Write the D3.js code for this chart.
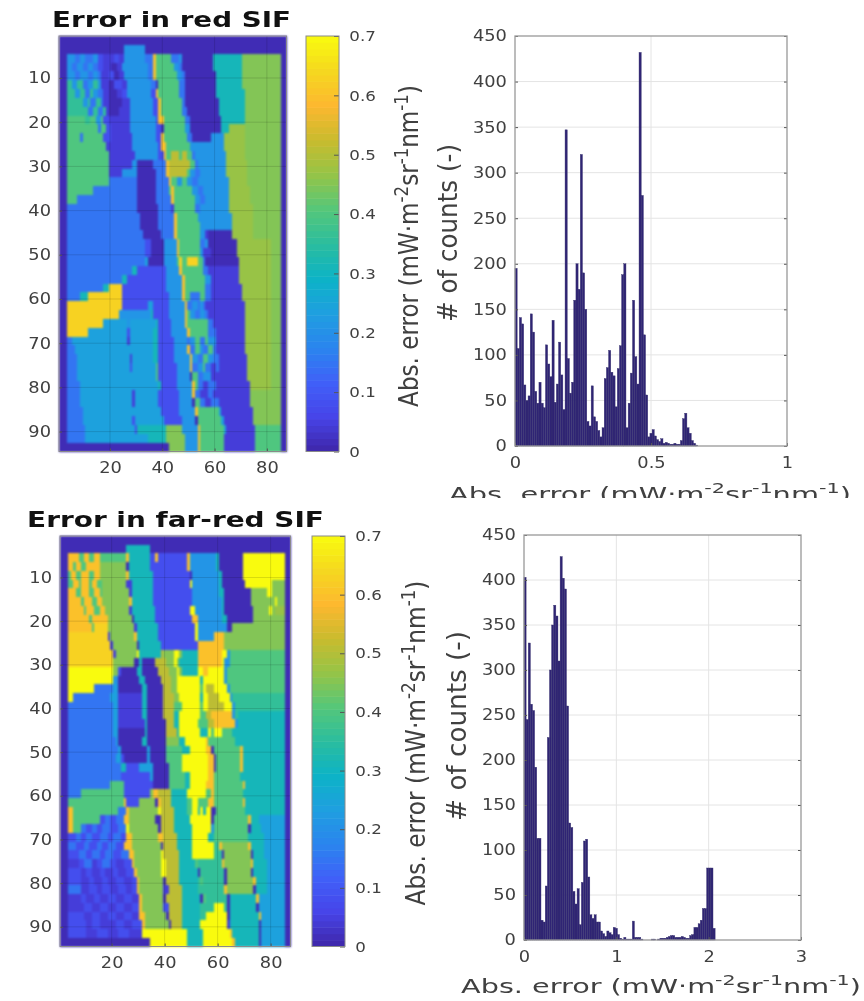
<!DOCTYPE html>
<html>
<head>
<meta charset="utf-8">
<script src="https://cdn.jsdelivr.net/npm/d3@7"></script>
<style>
    html, body { margin: 0; background: #fff; }
    svg { display: block; filter: blur(0.55px); }
    text { font-family: "DejaVu Sans", sans-serif; fill: #404040; }
    .cells { filter: blur(0.9px); }
</style>
</head>
<body>
<svg id="canvas" width="864" height="1001"></svg>
<script>
// error levels used by the map rows, letter a is the first one
let heatLevels = [0.012, 0.045, 0.08, 0.15, 0.21, 0.24, 0.31, 0.36, 0.40, 0.45, 0.47, 0.51, 0.55, 0.60, 0.63, 0.70]

// each string is two map rows: last column of a run + level letter
let redRows = [
    "87a",
    "25a 33e 87a",
    "3a 6e 8d 10e 13d 15e 17c 21b 23c 25b 33e 36d 37n 43i 46d 47e 59a 70g 85j 87a",
    "3a 5e 7d 9e 11d 13e 15d 17c 20b 22a 24b 34e 36d 37n 44i 46e 47d 59a 70g 85j 87a",
    "3a 6e 8d 11e 13d 15e 16d 19b 21c 23a 25b 34e 36d 37n 45i 47e 48d 60a 70g 85j 87a",
    "3a 5h 7e 9h 11d 13e 15h 16e 19b 21a 24c 26b 35e 37d 38a 46i 48d 60a 70g 85j 87a",
    "3a 6h 8e 10h 12d 13h 15e 17d 19b 22a 24b 26c 35e 37c 38n 46i 48d 60a 71g 85j 87a",
    "3a 9h 11e 12h 14d 16h 17d 19b 24a 27b 36e 38c 39n 47i 48d 61a 71g 85j 87a",
    "3a 11h 13d 15h 17d 18h 19b 23a 27b 36e 38c 39n 47i 49d 61a 71g 85j 87a",
    "3a 10i 12h 14i 16e 17i 19c 24b 27b 37e 38c 40n 48i 50d 62a 71g 85j 87a",
    "3a 15i 16d 18i 20c 27b 37e 39c 40a 48i 50e 62a 65g 71k 85j 87a",
    "3a 8i 9d 17i 20c 28b 37e 39c 40n 49i 51d 58a 63e 71k 85j 87a",
    "3a 18i 21b 28b 38e 39c 41n 50i 63e 71k 85j 87a",
    "3a 19i 21b 29b 38e 40c 41n 43i 46l 47i 49l 51i 52d 64e 71k 85j 87a",
    "3a 19i 22b 28b 30e 36a 41d 42n 50l 52i 53d 64e 72k 85j 87a",
    "3a 19i 24b 30e 37a 41d 42n 49l 50i 52e 54d 64e 72k 85j 87a",
    "3a 19i 30d 37a 42d 43n 45i 47e 49i 51e 53d 65e 72k 85j 87a",
    "3a 13i 30d 37a 42d 43i 44n 51i 53e 55d 65e 73k 85j 87a",
    "3a 7i 30d 37a 43d 44n 52i 54e 56d 65e 73k 85j 87a",
    "3a 30d 38a 43d 44b 52i 54d 65e 74k 85j 87a",
    "3a 31d 38a 44d 45n 53i 55e 66e 74k 85j 87a",
    "3a 31d 38a 44d 45n 54i 56e 66e 74k 85j 87a",
    "3a 32d 39a 44d 45n 54i 56e 57b 66a 74k 85j 87a",
    "3a 33d 35c 40a 45e 46n 54i 56d 57e 68a 81k 85j 87a",
    "3a 33d 35c 40a 45e 46n 54i 55e 58b 68a 81k 85j 87a",
    "3a 33d 34f 40a 45e 46i 47o 49i 53o 55i 56d 58a 69a 81k 85j 87a",
    "3a 28d 30g 41c 46e 47n 55i 57d 69b 81k 85j 87a",
    "3a 24d 26g 41c 47e 48n 56i 58e 61b 69b 81k 85j 87a",
    "3a 17d 19g 24o 41c 47e 48n 56i 58d 61b 70b 81k 85j 87a",
    "3a 8d 11g 24o 42c 47e 48n 50i 54d 56i 58d 61b 70b 81k 85j 87a",
    "3a 24o 25c 34c 36f 42c 48e 49n 51d 53e 54d 55e 56d 58b 62b 71b 81k 85j 87a",
    "3a 23o 26e 35e 36g 42c 48e 49n 50i 52e 54d 56e 57d 58b 62b 71b 81k 85j 87a",
    "3a 17o 26f 27e 37f 38g 43c 48e 49n 51i 57i 59d 62b 71b 81k 85j 87a",
    "3a 11o 26f 27c 36f 38g 43c 49e 50n 51i 57i 60d 71b 81k 85j 87a",
    "3a 5d 26f 27b 36f 38g 44c 49e 50d 52e 54i 56d 57i 60e 71b 81k 85j 87a",
    "3a 6d 36f 38g 44c 49e 50n 52d 54i 55e 57d 59i 60d 71b 81k 85j 87a",
    "3a 7d 27f 28b 36f 38g 44c 50e 51n 53e 55d 57i 59e 61d 72b 81k 85j 87a",
    "3a 7d 27f 28c 37f 38i 45c 50e 51n 53d 55e 56i 58d 60b 61d 72b 81k 85j 87a",
    "3a 7d 37f 38i 45c 50e 51a 53i 55d 58e 60b 72b 81k 85j 87a",
    "3a 8d 38f 39g 45c 51e 52n 53i 55d 57b 60d 62b 73b 81k 85j 87a",
    "3a 8d 28f 29b 38f 46c 51e 52n 54d 57b 59d 61b 73b 85j 87a",
    "3a 8d 28f 29b 38f 46c 51e 52a 54i 56d 58b 61d 62b 73b 85j 87a",
    "3a 9d 39f 46c 52e 53n 54i 61i 62f 74b 85j 87a",
    "3a 9d 28f 29c 40f 47c 52e 53a 62i 63f 74b 85j 87a",
    "3a 10d 29f 30c 41g 47j 53e 54n 63i 64f 75b 85i 87a",
    "3a 10d 34f 41g 48j 53e 54n 63i 75b 85i 87a",
    "42a 48j 53e 54n 63i 75b 85i 87a"
]

let farRedRows = [
    "87a",
    "25a 34g 87a",
    "3a 7n 9i 11n 13i 15n 25i 26n 34g 36c 37n 48c 49n 59e 60g 69a 85p 87a",
    "3a 5n 6i 8n 10i 12n 15n 25j 26a 34g 37c 48c 49n 59e 60g 69a 85p 87a",
    "3a 4i 6n 8i 11n 13i 15n 25j 26n 35g 37c 49c 50a 60e 61g 69a 85p 87a",
    "3a 5i 7n 8i 11n 12i 14n 16i 25j 27b 35g 37c 49c 50p 60e 61g 70a 80p 85j 87a",
    "3a 6n 8i 11n 13i 15n 16i 26j 27b 35g 38c 50c 60e 62g 72a 78j 80p 85j 87a",
    "3a 8n 9i 12n 14i 16n 26j 27n 35g 38c 50c 51e 61e 62g 72a 81j 82p 85j 87a",
    "3a 9n 10i 13n 15i 17n 26j 27b 36g 38c 49c 51p 61e 62g 73a 79j 80p 81j 85k 87a",
    "3a 11n 12i 18n 27j 28a 36g 39c 50c 52n 61e 63g 73a 85j 87a",
    "3a 12n 13i 18o 28j 29b 37g 40c 51c 52p 63e 65a 85j 87a",
    "3a 18o 19b 28j 29n 37g 40c 51c 52p 58e 62n 85j 87a",
    "3a 19o 20b 29j 30a 38g 41c 52c 62n 85j 87a",
    "3a 20o 21b 29j 30p 38g 39l 43j 45p 46j 52g 53n 61n 63p 64e 85i 87a",
    "3a 20o 28j 30a 31g 36a 40l 43j 44p 45j 52g 53n 61n 62p 64e 85i 87a",
    "3a 20p 22j 23c 29a 31g 37a 41l 44j 45p 46j 52g 54p 56n 62p 63e 64i 85i 87a",
    "3a 20p 22e 30a 32g 38a 42l 44j 46p 53p 54g 55p 62p 63e 64i 85i 87a",
    "3a 13p 20d 22f 31a 33g 39a 42l 44j 53p 54i 55p 58l 60p 63p 64e 65i 85i 87a",
    "3a 5p 19d 22f 31b 33g 39a 43l 45j 53p 54g 56p 60l 61p 64p 65e 66h 85h 87a",
    "3a 20d 22f 31b 33g 39a 43l 46i 53p 54i 56p 62l 65p 66e 85h 87a",
    "3a 20d 22f 31b 33g 39a 43l 45g 53p 55i 57l 65n 66e 67h 76g 85g 87a",
    "3a 20d 22f 32b 33g 40a 43l 45g 52p 56i 58l 66n 67e 76g 85g 87a",
    "3a 20d 22f 32a 33g 40a 44l 45g 53p 56g 57p 58i 61p 65i 67g 85g 87a",
    "3a 21d 22f 31a 33g 40a 45j 47g 48p 55p 56n 59i 66i 68g 85g 87a",
    "3a 22d 23f 33a 34f 40a 46i 49g 55p 57n 58a 68i 69n 85g 87a",
    "3a 21d 23f 24c 33a 34f 40a 46i 49p 50p 56p 58n 59a 68i 69n 85g 87a",
    "3a 23d 25g 30c 33f 35f 41a 46i 49p 56p 58n 59a 68i 69n 85g 87a",
    "3a 23d 25c 34c 35f 41a 47i 49g 50p 56p 58n 60i 68i 69g 85g 87a",
    "3a 19d 24i 25c 35c 41a 47i 49g 50p 55p 58n 60i 69i 70n 85g 87a",
    "3a 8d 24i 25c 34c 35j 37n 42l 48g 51p 55p 57i 58n 60i 69i 70g 85g 87a",
    "3a 24i 25n 26c 30c 36j 37a 38n 42l 48g 50i 52p 53i 56i 58n 60i 69i 70n 85g 87a",
    "3a 5n 22i 25d 26n 37j 38p 43l 48g 50i 52p 53g 54p 55g 57p 59a 60i 70i 71g 85g 87a",
    "3a 5n 15i 17c 19d 21c 24d 26n 36j 38a 43l 49g 51p 57p 58a 60i 71i 72n 75g 85f 87a",
    "3a 5n 8i 10d 12c 14d 16c 19d 22c 25d 26p 37j 38a 43l 50g 51p 57p 58e 61i 71i 72a 76g 85f 87a",
    "3a 6c 8d 10c 12d 15c 18d 20c 23d 25c 27n 37j 39n 44l 50g 52p 56p 58g 61i 71i 72g 77g 85f 87a",
    "3a 6d 9c 11d 14c 16d 18c 21d 24c 27n 38j 39a 44l 50g 51p 58p 60h 61n 71j 72n 77g 85f 87a",
    "3a 7c 10d 12c 15d 17c 20d 23c 26d 28n 38j 39p 45l 50g 51p 58p 61h 62a 72j 73a 77g 85f 87a",
    "3a 7b 9c 12d 14b 16c 19d 21c 24b 27c 28n 38j 40p 45l 51g 52i 53h 61h 62n 72j 73n 78g 85f 87a",
    "3a 8c 10b 12c 15b 17c 20b 22c 25b 28c 29n 38j 40p 45l 52g 53a 54h 62h 63a 72j 73a 78g 85f 87a",
    "3a 8c 11b 13c 16b 18c 21b 24c 27b 29c 30n 39j 40a 45l 52g 53h 54i 62h 63a 73j 74n 78g 85f 87a",
    "3a 8d 11b 14c 16b 19c 22b 25c 27b 29c 30n 39j 41b 46l 52g 54h 62h 63n 73j 74a 78g 85f 87a",
    "3a 8b 10c 13b 15c 18b 21c 24b 27c 30b 31n 39j 40a 46l 53g 54a 55i 63h 64a 74g 75n 85f 87a",
    "3a 9b 12c 15b 18c 21b 24c 27b 30c 31n 39j 41c 46l 53g 58h 62p 63h 64a 74g 75a 85f 87a",
    "3a 9c 12b 15c 18b 21c 24b 27c 30b 32n 40j 41a 46l 53g 55h 63p 64a 75g 76n 85f 87a",
    "3a 10c 12b 15c 18b 21b 24c 27b 31c 32n 41j 42a 46l 53g 63p 64b 75g 76a 85f 87a",
    "3a 10c 14b 18c 22b 26c 31b 48p 54g 64p 65n 75g 76a 85f 87a",
    "34a 48p 54g 55p 65p 66n 75g 76a 85f 87a"
]

// histogram counts, one per bin starting at zero
let redCounts = [195, 107, 141, 134, 67, 50, 55, 145, 125, 60, 47, 70, 47, 42, 111, 90, 76, 138, 48, 68,
    114, 78, 40, 347, 96, 58, 70, 160, 200, 172, 320, 190, 150, 27, 22, 66, 32, 27, 17, 10,
    20, 74, 86, 105, 81, 77, 43, 85, 110, 188, 200, 20, 47, 80, 160, 98, 68, 432, 275, 122,
    56, 10, 14, 18, 11, 7, 5, 8, 3, 4, 3, 2, 2, 3, 2, 2, 6, 30, 36, 20, 14, 6, 3, 1]
let farRedCounts = [403, 245, 330, 262, 255, 192, 113, 113, 22, 20, 60, 225, 300, 350, 372, 360, 310, 426, 402, 390,
    260, 130, 125, 54, 40, 57, 17, 64, 110, 112, 70, 28, 24, 28, 20, 20, 10, 7, 4, 10,
    8, 6, 14, 13, 6, 2, 1, 3, 1, 1, 1, 21, 3, 3, 3, 1, 0, 0, 0, 0,
    1, 1, 0, 1, 2, 2, 2, 3, 4, 5, 5, 3, 3, 3, 4, 3, 2, 2, 5, 6,
    14, 14, 18, 22, 35, 35, 80, 80, 80, 13]
let redBinWidth = 0.008
let farRedBinWidth = 0.023

// parula colours, evenly spaced between 0 and 0.7
let parulaColors = ['#3e26a8', '#4744e8', '#4060f8', '#2a85ee', '#1f9fe0', '#0cb3c6', '#2bbd9e', '#55c77a', '#95c447', '#c9bb2e', '#fdb82f', '#f5d81f', '#f9fb0e']
let colorTicks = [0, 0.1, 0.2, 0.3, 0.4, 0.5, 0.6, 0.7]
let mapXTicks = [20, 40, 60, 80]
let mapYTicks = [10, 20, 30, 40, 50, 60, 70, 80, 90]
let countTicks = [0, 50, 100, 150, 200, 250, 300, 350, 400, 450]
let redErrorTicks = [0, 0.5, 1]
let farRedErrorTicks = [0, 1, 2, 3]
let unitParts = ['Abs. error (mW·m', '-2', 'sr', '-1', 'nm', '-1', ')']

let canvas = d3.select('#canvas')

let color = d3.scaleLinear()
    .domain(parulaColors.map((c, i) => i * 0.7 / (parulaColors.length - 1)))
    .range(parulaColors)

let parseRows = (rows) => {
    return rows.flatMap((row, k) => {
        let start = 1
        return row.split(' ').map((token) => {
            let end = +token.slice(0, -1)
            let run = {
                row: 2 * k + 1,
                start: start,
                end: end,
                value: heatLevels[token.charCodeAt(token.length - 1) - 97]
            }
            start = end + 1
            return run
        })
    })
}

// the source figure is stretched, so every label is fitted to a width
let placeFitted = (text, x, y, width, angle) => {
    let natural = text.node().getComputedTextLength()
    text.attr('text-anchor', 'middle')
        .attr('transform', `translate(${x},${y}) rotate(${angle}) scale(${width / natural},1)`)
}

let unitLabel = (x, y, width, angle, size) => {
    let label = canvas.append('text').attr('font-size', size)
    unitParts.forEach((part, i) => {
        let sup = i % 2 === 1
        label.append('tspan')
            .attr('font-size', sup ? size * 0.72 : size)
            .attr('dy', i === 0 ? 0 : (sup ? -size * 0.38 : size * 0.38))
            .text(part)
    })
    placeFitted(label, x, y, width, angle)
    return label
}

let styleAxis = (g, size, stretch) => {
    g.selectAll('.domain').remove()
    g.selectAll('line').attr('stroke', '#555')
    g.selectAll('text')
        .attr('font-size', size)
        .attr('transform', `scale(${stretch},1)`)
}

let drawMap = (rows, box, bar, title) => {
    let x = d3.scaleLinear().domain([0.5, 87.5]).range([box.left, box.right])
    let y = d3.scaleLinear().domain([0.5, 94.5]).range([box.top, box.bottom])

    canvas.append('g')
        .attr('class', 'cells')
        .selectAll('rect')
        .data(parseRows(rows))
        .enter()
        .append('rect')
        .attr('x', (d) => x(d.start - 0.5))
        .attr('y', (d) => y(d.row - 0.5))
        .attr('width', (d) => x(d.end + 0.5) - x(d.start - 0.5))
        .attr('height', (d) => y(d.row + 1.5) - y(d.row - 0.5))
        .attr('fill', (d) => color(d.value))
        .attr('shape-rendering', 'crispEdges')

    let grid = canvas.append('g').attr('stroke', 'rgba(0,0,0,0.13)')
    mapXTicks.forEach((t) => {
        grid.append('line').attr('x1', x(t)).attr('x2', x(t)).attr('y1', box.top).attr('y2', box.bottom)
    })
    mapYTicks.forEach((t) => {
        grid.append('line').attr('y1', y(t)).attr('y2', y(t)).attr('x1', box.left).attr('x2', box.right)
    })

    canvas.append('g')
        .attr('transform', `translate(0,${box.bottom})`)
        .call(d3.axisBottom(x).tickValues(mapXTicks).tickSizeInner(-3).tickPadding(11))
        .call((g) => styleAxis(g, 15.5, 1.15))
    canvas.append('g')
        .attr('transform', `translate(${box.left},0)`)
        .call(d3.axisLeft(y).tickValues(mapYTicks).tickSizeInner(-3).tickPadding(7))
        .call((g) => styleAxis(g, 15.5, 1.15))
    canvas.append('rect')
        .attr('x', box.left).attr('y', box.top)
        .attr('width', box.right - box.left).attr('height', box.bottom - box.top)
        .attr('fill', 'none').attr('stroke', '#8a8a8a')

    let barScale = d3.scaleLinear().domain([0, 0.7]).range([box.bottom, box.top])
    let steps = d3.range(64).map((i) => i * 0.7 / 64)
    canvas.append('g')
        .selectAll('rect')
        .data(steps)
        .enter()
        .append('rect')
        .attr('x', bar.left)
        .attr('y', (d) => barScale(d + 0.7 / 64))
        .attr('width', bar.right - bar.left)
        .attr('height', (d) => barScale(d) - barScale(d + 0.7 / 64) + 0.5)
        .attr('fill', (d) => color(d + 0.35 / 64))
    canvas.append('g')
        .attr('transform', `translate(${bar.right},0)`)
        .call(d3.axisRight(barScale).tickValues(colorTicks).tickFormat((d) => d).tickSizeInner(-5).tickPadding(9))
        .call((g) => styleAxis(g, 14.5, 1.15))
    canvas.append('rect')
        .attr('x', bar.left).attr('y', box.top)
        .attr('width', bar.right - bar.left).attr('height', box.bottom - box.top)
        .attr('fill', 'none').attr('stroke', '#8a8a8a')

    let head = canvas.append('text')
        .attr('font-size', 21)
        .attr('font-weight', 'bold')
        .style('fill', '#111')
        .text(title.text)
    placeFitted(head, title.x, title.y, title.width, 0)
}

let drawHistogram = (counts, binWidth, ticks, box) => {
    let x = d3.scaleLinear().domain([ticks[0], ticks[ticks.length - 1]]).range([box.left, box.right])
    let y = d3.scaleLinear().domain([0, 450]).range([box.bottom, box.top])

    let grid = canvas.append('g').attr('stroke', '#e4e4e4')
    ticks.slice(1, -1).forEach((t) => {
        grid.append('line').attr('x1', x(t)).attr('x2', x(t)).attr('y1', box.top).attr('y2', box.bottom)
    })
    countTicks.slice(1, -1).forEach((t) => {
        grid.append('line').attr('y1', y(t)).attr('y2', y(t)).attr('x1', box.left).attr('x2', box.right)
    })

    canvas.append('g')
        .selectAll('rect')
        .data(counts)
        .enter()
        .append('rect')
        .attr('x', (d, i) => x(i * binWidth))
        .attr('y', (d) => y(d))
        .attr('width', x(binWidth) - x(0))
        .attr('height', (d) => y(0) - y(d))
        .attr('fill', '#2f2474')
        .attr('stroke', '#38336e')
        .attr('stroke-width', 0.4)

    canvas.append('g')
        .attr('transform', `translate(0,${box.bottom})`)
        .call(d3.axisBottom(x).tickValues(ticks).tickFormat((d) => d).tickSizeInner(-3).tickPadding(11))
        .call((g) => styleAxis(g, 15.5, 1.15))
    canvas.append('g')
        .attr('transform', `translate(${box.left},0)`)
        .call(d3.axisLeft(y).tickValues(countTicks).tickSizeInner(-3).tickPadding(7))
        .call((g) => styleAxis(g, 15.5, 1.15))
    canvas.append('g')
        .attr('transform', `translate(${box.right},0)`)
        .call(d3.axisRight(y).tickValues(countTicks).tickSizeInner(-3).tickFormat(''))
        .call((g) => styleAxis(g, 15.5, 1))
    canvas.append('rect')
        .attr('x', box.left).attr('y', box.top)
        .attr('width', box.right - box.left).attr('height', box.bottom - box.top)
        .attr('fill', 'none').attr('stroke', '#999')
        .attr('stroke-width', 1.3)
}

let countLabel = (x, y, width) => {
    let label = canvas.append('text').attr('font-size', 27).text('# of counts (-)')
    placeFitted(label, x, y, width, -90)
}

drawMap(redRows,
    { left: 59, right: 286.5, top: 36, bottom: 451.5 },
    { left: 306, right: 339 },
    { text: 'Error in red SIF', x: 171.5, y: 27, width: 239 })
drawMap(farRedRows,
    { left: 60, right: 290.5, top: 536, bottom: 946.5 },
    { left: 312, right: 345 },
    { text: 'Error in far-red SIF', x: 175.5, y: 527, width: 297 })

drawHistogram(redCounts, redBinWidth, redErrorTicks, { left: 515, right: 787, top: 36, bottom: 446 })
drawHistogram(farRedCounts, farRedBinWidth, farRedErrorTicks, { left: 524, right: 801, top: 535, bottom: 940 })

unitLabel(418, 246, 322, -90, 27)
unitLabel(425, 743, 325, -90, 27)
countLabel(457, 233, 178)
countLabel(466, 726, 190)

// the first x label is cut off by the lower panel in the source
canvas.append('clipPath').attr('id', 'cut')
    .append('rect').attr('x', 0).attr('y', 0).attr('width', 864).attr('height', 498)
canvas.append('g').attr('clip-path', 'url(#cut)')
    .node().appendChild(unitLabel(650, 501, 402, 0, 20).node())
unitLabel(661, 993, 400, 0, 20)
</script>
</body>
</html>
